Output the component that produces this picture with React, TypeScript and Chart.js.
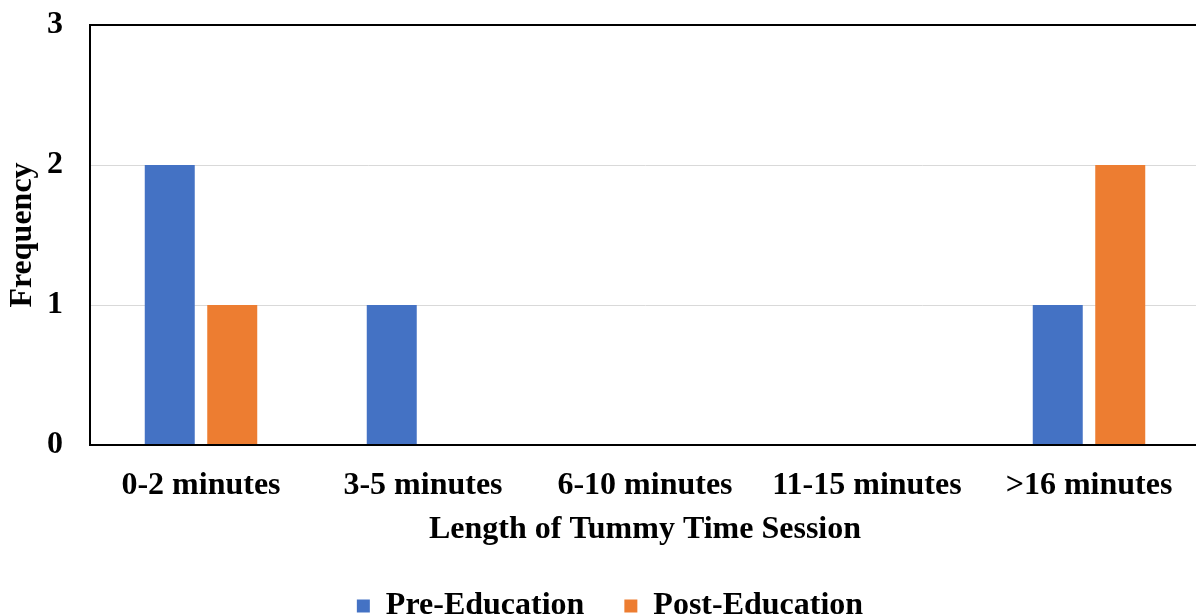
import React, { useEffect, useRef } from "react";
import { Chart, registerables } from "chart.js";

Chart.register(...registerables);

const categories = ["0-2 minutes", "3-5 minutes", "6-10 minutes", "11-15 minutes", ">16 minutes"];
const preEducation = [2, 1, 0, 0, 1];
const postEducation = [1, 0, 0, 0, 2];
const yTicks = [0, 1, 2, 3];

const FONT = "'Liberation Serif', 'Times New Roman', serif";

// Nudges the centred legend row so it sits under the whole figure.
const legendShift = {
  id: "legendShift",
  afterLayout(chart: any) {
    if (chart.legend) {
      chart.legend.left += 10;
      chart.legend.right += 10;
    }
  },
};

export default function App() {
  const ref = useRef<HTMLCanvasElement | null>(null);

  useEffect(() => {
    if (!ref.current) return;
    const chart = new Chart(ref.current, {
      type: "bar",
      data: {
        labels: categories,
        datasets: [
          {
            label: "Pre-Education",
            data: preEducation,
            backgroundColor: "#4472C4",
            borderWidth: 0,
            categoryPercentage: 0.563,
            barPercentage: 0.8,
          },
          {
            label: "Post-Education",
            data: postEducation,
            backgroundColor: "#ED7D31",
            borderWidth: 0,
            categoryPercentage: 0.563,
            barPercentage: 0.8,
          },
        ],
      },
      plugins: [legendShift],
      options: {
        responsive: false,
        animation: false,
        devicePixelRatio: 1,
        layout: { padding: { top: 0, right: 19, left: 0, bottom: 0 } },
        plugins: {
          tooltip: { enabled: false },
          legend: {
            position: "bottom",
            labels: {
              boxWidth: 13,
              boxHeight: 13,
              padding: 40,
              color: "#000",
              font: { family: FONT, size: 32, weight: "bold" },
            },
          },
        },
        scales: {
          x: {
            grid: { display: false, drawTicks: false },
            border: { display: true, color: "#000", width: 2 },
            afterFit: (axis: any) => {
              axis.height = 105;
            },
            ticks: {
              padding: 22,
              color: "#000",
              maxRotation: 0,
              font: { family: FONT, size: 32, weight: "bold" },
            },
            title: {
              display: true,
              text: "Length of Tummy Time Session",
              color: "#000",
              padding: { top: 4, bottom: 1 },
              font: { family: FONT, size: 32, weight: "bold" },
            },
          },
          y: {
            min: 0,
            max: yTicks[yTicks.length - 1],
            afterBuildTicks: (axis: any) => {
              axis.ticks = yTicks.map((v) => ({ value: v }));
            },
            afterFit: (axis: any) => {
              axis.width = 90;
              axis.paddingTop = 25;
            },
            grid: {
              drawTicks: false,
              color: (ctx: any) =>
                ctx.tick && (ctx.tick.value === 3 || ctx.tick.value === 0) ? "#000" : "#d9d9d9",
              lineWidth: (ctx: any) =>
                ctx.tick && (ctx.tick.value === 3 || ctx.tick.value === 0) ? 2 : 1,
            },
            border: { display: true, color: "#000", width: 2 },
            ticks: {
              padding: 27,
              color: "#000",
              font: { family: FONT, size: 32, weight: "bold" },
            },
            title: {
              display: true,
              text: "Frequency",
              color: "#000",
              padding: { top: 4, bottom: 4 },
              font: { family: FONT, size: 32, weight: "bold" },
            },
          },
        },
      },
    });
    return () => chart.destroy();
  }, []);

  return (
    <div style={{ position: "fixed", left: 0, top: 0, width: 1196, height: 616, overflow: "hidden", background: "#fff" }}>
      <canvas ref={ref} width={1219} height={632} />
    </div>
  );
}
